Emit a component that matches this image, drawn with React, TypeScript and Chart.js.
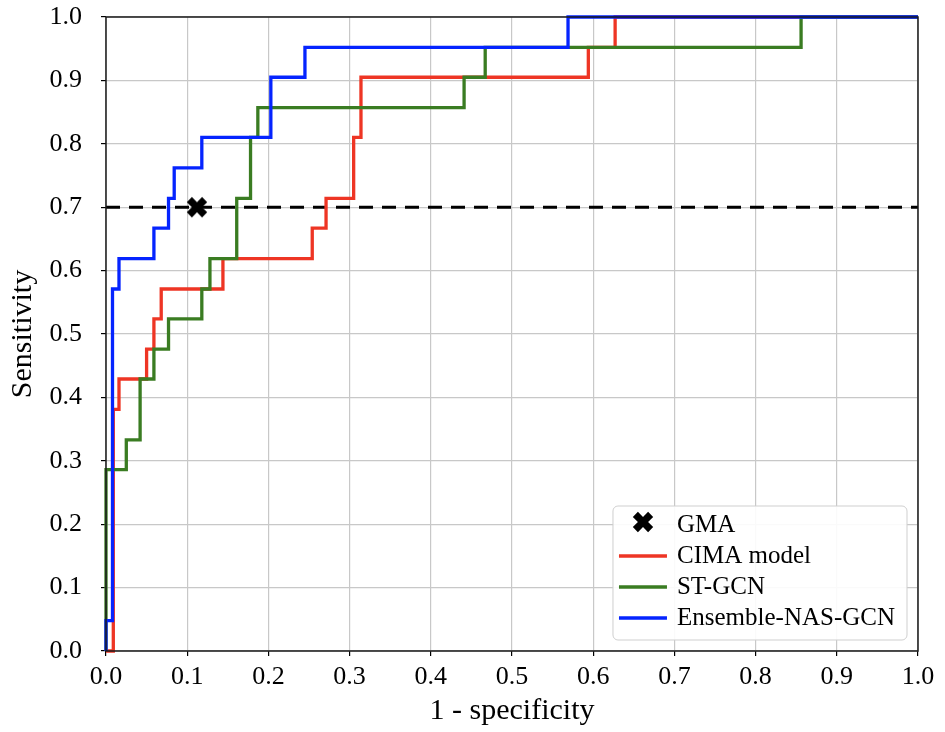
import React, { useEffect, useRef } from "react";
import { Chart, registerables } from "chart.js";

Chart.register(...registerables);

// ---------- data ----------
const axisTicks = [0, 0.1, 0.2, 0.3, 0.4, 0.5, 0.6, 0.7, 0.8, 0.9, 1.0];

const seriesLabels = ["GMA", "CIMA model", "ST-GCN", "Ensemble-NAS-GCN"];

const gmaX = [0.112];
const gmaY = [0.7];

const thresholdX = [0, 1];
const thresholdY = [0.7, 0.7];

const cimaFpr = [0, 0.009, 0.009, 0.016, 0.016, 0.05, 0.05, 0.059, 0.059, 0.068, 0.068, 0.144, 0.144, 0.254, 0.254, 0.271, 0.271, 0.305, 0.305, 0.314, 0.314, 0.594, 0.594, 0.627, 0.627, 1.0];
const cimaTpr = [0, 0, 0.381, 0.381, 0.429, 0.429, 0.476, 0.476, 0.524, 0.524, 0.571, 0.571, 0.619, 0.619, 0.667, 0.667, 0.714, 0.714, 0.81, 0.81, 0.905, 0.905, 0.952, 0.952, 1.0, 1.0];

const stgcnFpr = [0, 0, 0.025, 0.025, 0.042, 0.042, 0.059, 0.059, 0.077, 0.077, 0.118, 0.118, 0.128, 0.128, 0.161, 0.161, 0.178, 0.178, 0.187, 0.187, 0.441, 0.441, 0.467, 0.467, 0.856, 0.856, 1.0];
const stgcnTpr = [0, 0.286, 0.286, 0.333, 0.333, 0.429, 0.429, 0.476, 0.476, 0.524, 0.524, 0.571, 0.571, 0.619, 0.619, 0.714, 0.714, 0.81, 0.81, 0.857, 0.857, 0.905, 0.905, 0.952, 0.952, 1.0, 1.0];

const nasFpr = [0, 0, 0.008, 0.008, 0.016, 0.016, 0.059, 0.059, 0.077, 0.077, 0.084, 0.084, 0.118, 0.118, 0.203, 0.203, 0.245, 0.245, 0.569, 0.569, 1.0];
const nasTpr = [0, 0.048, 0.048, 0.571, 0.571, 0.619, 0.619, 0.667, 0.667, 0.714, 0.714, 0.762, 0.762, 0.81, 0.81, 0.905, 0.905, 0.952, 0.952, 1.0, 1.0];

// ---------- styles ----------
const RED = "#EE3524";
const GREEN = "#3A7C22";
const BLUE = "#0524FF";
const FONT = "'Liberation Serif', 'Times New Roman', serif";

function pts(xs: number[], ys: number[]) {
  return xs.map((x, i) => ({ x, y: ys[i] }));
}

function makeXMarker(size: number): HTMLCanvasElement {
  const c = document.createElement("canvas");
  c.width = size;
  c.height = size;
  const ctx = c.getContext("2d")!;
  const s = size * 0.9;
  const a = s / 2;
  const b = s / 6;
  const raw = [
    [-b, a], [b, a], [b, b], [a, b], [a, -b], [b, -b],
    [b, -a], [-b, -a], [-b, -b], [-a, -b], [-a, b], [-b, b],
  ];
  const cos = Math.cos(Math.PI / 4);
  const sin = Math.sin(Math.PI / 4);
  ctx.beginPath();
  raw.forEach(([x, y], i) => {
    const rx = x * cos - y * sin + size / 2;
    const ry = x * sin + y * cos + size / 2;
    if (i === 0) ctx.moveTo(rx, ry);
    else ctx.lineTo(rx, ry);
  });
  ctx.closePath();
  ctx.fillStyle = "#000";
  ctx.fill();
  return c;
}

export default function App() {
  const ref = useRef<HTMLCanvasElement | null>(null);

  useEffect(() => {
    document.body.style.margin = "0";
    const canvas = ref.current;
    if (!canvas) return;
    const marker = makeXMarker(24);

    const framePlugin = {
      id: "frame",
      afterDatasetsDraw(chart: any) {
        const { ctx, chartArea: ca } = chart;
        ctx.save();
        ctx.strokeStyle = "#1a1a1a";
        ctx.lineWidth = 1.5;
        ctx.strokeRect(ca.left, ca.top, ca.right - ca.left, ca.bottom - ca.top);
        ctx.restore();
      },
    };

    const legendPlugin = {
      id: "customLegend",
      afterDraw(chart: any) {
        const { ctx, chartArea: ca } = chart;
        ctx.save();
        ctx.font = `25px ${FONT}`;
        const maxW = Math.max(...seriesLabels.map((t) => ctx.measureText(t).width));
        const rowH = 31;
        const w = 6 + 48 + 10 + maxW + 12;
        const h = rowH * seriesLabels.length + 10;
        const right = ca.right - 11;
        const bottom = ca.bottom - 11;
        const left = right - w;
        const top = bottom - h;
        ctx.beginPath();
        (ctx as any).roundRect(left, top, w, h, 5);
        ctx.fillStyle = "rgba(255,255,255,0.9)";
        ctx.fill();
        ctx.strokeStyle = "#cfcfcf";
        ctx.lineWidth = 1;
        ctx.stroke();
        const handles: (string | null)[] = [null, RED, GREEN, BLUE];
        seriesLabels.forEach((label, i) => {
          const cy = top + 19 + i * rowH;
          const hx = left + 6;
          if (handles[i] === null) {
            ctx.drawImage(marker, hx + 24 - 12, cy - 3 - 12);
          } else {
            ctx.beginPath();
            ctx.strokeStyle = handles[i] as string;
            ctx.lineWidth = 3.3;
            ctx.moveTo(hx, cy);
            ctx.lineTo(hx + 48, cy);
            ctx.stroke();
          }
          ctx.fillStyle = "#000";
          ctx.textBaseline = "middle";
          ctx.textAlign = "left";
          ctx.fillText(label, hx + 48 + 10, cy);
        });
        ctx.restore();
      },
    };

    const tickCb = (v: any) => Number(v).toFixed(1);

    const lineDs = (label: string, data: any, color: string, order: number) => ({
      label,
      data,
      showLine: true,
      borderColor: color,
      borderWidth: 3.3,
      pointRadius: 0,
      fill: false,
      order,
      clip: false,
    });

    const chart = new Chart(canvas, {
      type: "scatter",
      data: {
        datasets: [
          {
            label: seriesLabels[0],
            data: pts(gmaX, gmaY),
            pointStyle: marker as any,
            pointRadius: 12,
            showLine: false,
            order: 0,
            clip: false,
          },
          lineDs(seriesLabels[3], pts(nasFpr, nasTpr), BLUE, 1),
          lineDs(seriesLabels[2], pts(stgcnFpr, stgcnTpr), GREEN, 2),
          lineDs(seriesLabels[1], pts(cimaFpr, cimaTpr), RED, 3),
          {
            label: "threshold",
            data: pts(thresholdX, thresholdY),
            showLine: true,
            borderColor: "#000",
            borderWidth: 3,
            borderDash: [14, 9],
            pointRadius: 0,
            fill: false,
            order: 4,
            clip: false,
          },
        ],
      },
      options: {
        responsive: false,
        animation: false,
        events: [],
        layout: { padding: { left: 0, right: 27, top: 17, bottom: 0 } },
        plugins: {
          legend: { display: false },
          tooltip: { enabled: false },
        },
        scales: {
          x: {
            type: "linear",
            min: 0,
            max: 1,
            afterFit: (scale: any) => {
              scale.height = 81;
              scale.paddingLeft = 0;
              scale.paddingRight = 0;
            },
            afterBuildTicks: (scale: any) => {
              scale.ticks = axisTicks.map((v) => ({ value: v }));
            },
            ticks: {
              callback: tickCb,
              color: "#000",
              padding: 6,
              maxRotation: 0,
              font: { family: FONT, size: 26 },
            },
            grid: {
              color: "#c8c8c8",
              lineWidth: 1.2,
              drawTicks: true,
              tickLength: 5,
              tickColor: "#000",
              tickWidth: 1.2,
            },
            border: { display: false },
            title: {
              display: true,
              text: "1 - specificity",
              color: "#000",
              font: { family: FONT, size: 30 },
              padding: { top: 0, bottom: 3 },
            },
          },
          y: {
            type: "linear",
            min: 0,
            max: 1,
            afterFit: (scale: any) => {
              scale.width = 106;
              scale.paddingTop = 0;
              scale.paddingBottom = 0;
            },
            afterBuildTicks: (scale: any) => {
              scale.ticks = axisTicks.map((v) => ({ value: v }));
            },
            ticks: {
              callback: tickCb,
              color: "#000",
              padding: 19,
              font: { family: FONT, size: 26 },
            },
            grid: {
              color: "#c8c8c8",
              lineWidth: 1.2,
              drawTicks: true,
              tickLength: 5,
              tickColor: "#000",
              tickWidth: 1.2,
            },
            border: { display: false },
            title: {
              display: true,
              text: "Sensitivity",
              color: "#000",
              font: { family: FONT, size: 30 },
              padding: { top: 5, bottom: 0 },
            },
          },
        },
      },
      plugins: [framePlugin, legendPlugin],
    } as any);

    return () => {
      chart.destroy();
    };
  }, []);

  return (
    <div style={{ width: 945, height: 732 }}>
      <canvas ref={ref} width={945} height={732} style={{ display: "block" }} />
    </div>
  );
}
